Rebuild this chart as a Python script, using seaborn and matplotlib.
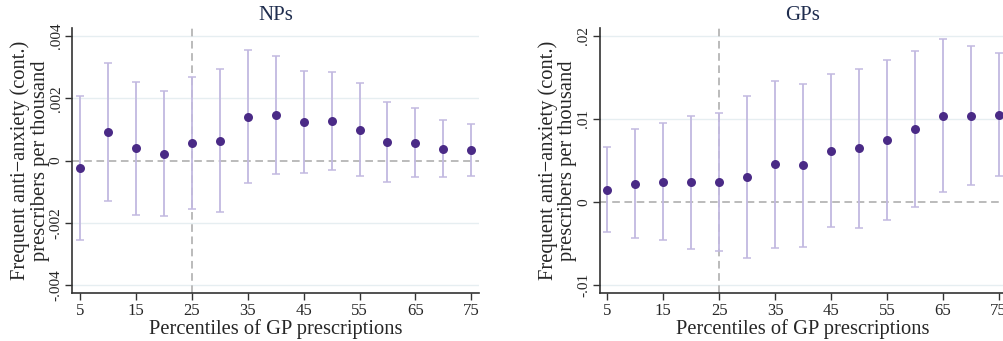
import matplotlib
matplotlib.use("Agg")
import matplotlib.pyplot as plt
import seaborn as sns
import numpy as np
import pandas as pd

# ---- data ----
percentiles = [5, 10, 15, 20, 25, 30, 35, 40, 45, 50, 55, 60, 65, 70, 75]

np_coef = [-0.00023, 0.00092, 0.00040, 0.00022, 0.00057, 0.00064, 0.00140, 0.00146,
           0.00124, 0.00128, 0.00099, 0.00059, 0.00056, 0.00038, 0.00034]
np_hi = [0.00208, 0.00313, 0.00254, 0.00223, 0.00269, 0.00293, 0.00354, 0.00336,
         0.00287, 0.00285, 0.00249, 0.00188, 0.00168, 0.00132, 0.00116]
np_lo = [-0.00255, -0.00130, -0.00175, -0.00178, -0.00155, -0.00166, -0.00073, -0.00042,
         -0.00040, -0.00031, -0.00050, -0.00068, -0.00054, -0.00054, -0.00048]

gp_coef = [0.00145, 0.00220, 0.00245, 0.00237, 0.00237, 0.00305, 0.00454, 0.00442,
           0.00614, 0.00647, 0.00750, 0.00880, 0.01040, 0.01040, 0.01048]
gp_hi = [0.00667, 0.00880, 0.00948, 0.01040, 0.01076, 0.01280, 0.01462, 0.01426,
         0.01538, 0.01606, 0.01715, 0.01823, 0.01964, 0.01880, 0.01795]
gp_lo = [-0.00365, -0.00434, -0.00458, -0.00566, -0.00594, -0.00670, -0.00550, -0.00538,
         -0.00301, -0.00317, -0.00213, -0.00056, 0.00120, 0.00209, 0.00310]

x_ticks = [5, 15, 25, 35, 45, 55, 65, 75]
np_yticks = [-0.004, -0.002, 0, 0.002, 0.004]
np_yticklabels = ["-.004", "-.002", "0", ".002", ".004"]
gp_yticks = [-0.01, 0, 0.01, 0.02]
gp_yticklabels = ["-.01", "0", ".01", ".02"]
titles = ["NPs", "GPs"]
ylabel = "Frequent anti\u2212anxiety (cont.)\nprescribers per thousand"
xlabel = "Percentiles of GP prescriptions"
cutoff = 25

sns.set_theme(style="white")
plt.rcParams["font.family"] = ["Liberation Serif", "DejaVu Serif"]

POINT = "#4a2a86"
BAR = "#c2b9e0"
GRID = "#e6eef1"
REF = "#a8a8a8"
TITLE = "#1f2d4e"

fig = plt.figure(figsize=(10.04, 3.41), dpi=100)
ax1 = fig.add_axes([0.072, 0.140, 0.405, 0.778])
ax2 = fig.add_axes([0.5976, 0.140, 0.4044, 0.778])

panels = [
    (ax1, np_coef, np_lo, np_hi, np_yticks, np_yticklabels, (-0.00426, 0.00426), (3.57, 76.38)),
    (ax2, gp_coef, gp_lo, gp_hi, gp_yticks, gp_yticklabels, (-0.0110, 0.02096), (3.70, 76.3)),
]

for i, (ax, coef, lo, hi, yt, ytl, ylim, xlim) in enumerate(panels):
    df = pd.DataFrame({"pct": percentiles, "coef": coef, "lo": lo, "hi": hi})
    for y in yt:
        if y != 0:
            ax.axhline(y, color=GRID, lw=1.0, zorder=0)
    ax.axhline(0, color=REF, lw=1.1, ls=(0, (5, 3)), zorder=1)
    ax.axvline(cutoff, color=REF, lw=1.1, ls=(0, (5, 3)), zorder=1)
    c = np.array(coef)
    ax.errorbar(df["pct"], c, yerr=[c - np.array(lo), np.array(hi) - c],
                fmt="none", ecolor=BAR, elinewidth=1.3, capsize=3, capthick=1.1, zorder=2)
    sns.scatterplot(data=df, x="pct", y="coef", ax=ax, color=POINT, s=42,
                    edgecolor=POINT, linewidth=0, zorder=3)
    ax.set_xlim(*xlim)
    ax.set_ylim(*ylim)
    ax.set_xticks(x_ticks)
    ax.set_xticklabels([str(t) for t in x_ticks], fontsize=12)
    ax.set_yticks(yt)
    ax.set_yticklabels(ytl, fontsize=11, rotation=90, va="center")
    ax.tick_params(axis="both", direction="out", length=5, width=1, color="#333333",
                   bottom=True, left=True, pad=2)
    for s in ["top", "right"]:
        ax.spines[s].set_visible(False)
    for s in ["left", "bottom"]:
        ax.spines[s].set_color("#333333")
        ax.spines[s].set_linewidth(1.2)
    ax.set_title(titles[i], fontsize=15, color=TITLE, pad=6)
    ax.set_xlabel(xlabel, fontsize=14.8, labelpad=0)
    ax.set_ylabel(ylabel, fontsize=14.8, labelpad=0, linespacing=1.05)

fig.savefig("out.png", dpi=100)
